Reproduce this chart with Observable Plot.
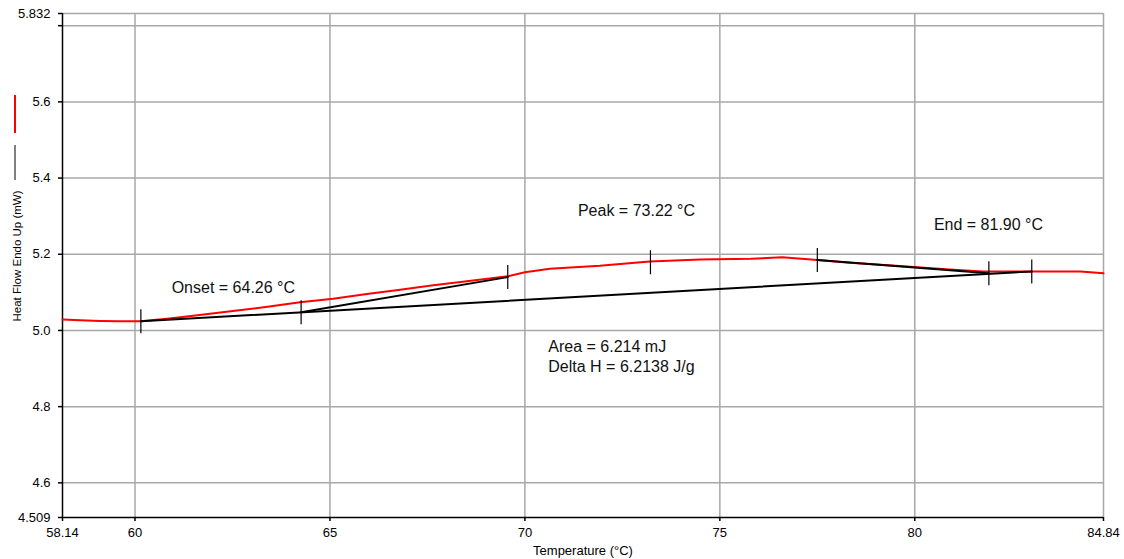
<!DOCTYPE html>
<html>
<head>
<meta charset="utf-8">
<script src="https://cdn.jsdelivr.net/npm/d3@7"></script>
<script src="https://cdn.jsdelivr.net/npm/@observablehq/plot@0.6"></script>
<style>
  html, body { margin: 0; padding: 0; background: #fff; }
  #chart { width: 1124px; height: 559px; overflow: hidden; }
</style>
</head>
<body>
<div id="chart"></div>
<script>
// Red DSC curve
const temperature = [58.14, 58.6, 59.1, 59.6, 60.15, 60.82, 61.6, 62.51, 63.4, 64.23, 65.08, 65.9, 66.8, 67.6, 68.51, 69.56, 70.0, 70.64, 71.92, 73.2, 74.5, 75.8, 76.6, 77.5, 78.33, 79.61, 80.89, 81.74, 82.97, 84.25, 84.84];
const heatFlow    = [5.029, 5.027, 5.025, 5.024, 5.024, 5.031, 5.040, 5.051, 5.062, 5.074, 5.083, 5.095, 5.107, 5.118, 5.129, 5.142, 5.153, 5.162, 5.170, 5.181, 5.186, 5.188, 5.192, 5.185, 5.178, 5.169, 5.160, 5.155, 5.155, 5.155, 5.150];

// Black construction lines
const baselineT = [60.15, 83.0];
const baselineH = [5.024, 5.155];
const onsetTangentT = [64.26, 69.56];
const onsetTangentH = [5.048, 5.140];
const endTangentT = [77.5, 81.9];
const endTangentH = [5.185, 5.150];

// Vertical marker ticks on the curve
const markerT = [60.15, 64.26, 69.56, 73.22, 77.5, 81.9, 83.0];
const markerH = [5.024, 5.048, 5.140, 5.179, 5.185, 5.150, 5.155];

// Axis ticks
const xTicks = [58.14, 60, 65, 70, 75, 80, 84.84];
const xTickLabels = ["58.14", "60", "65", "70", "75", "80", "84.84"];
const yTicks = [4.509, 4.6, 4.8, 5.0, 5.2, 5.4, 5.6, 5.832];
const yTickLabels = ["4.509", "4.6", "4.8", "5.0", "5.2", "5.4", "5.6", "5.832"];
const xGrid = [60, 65, 70, 75, 80, 84.84];
const yGrid = [4.6, 4.8, 5.0, 5.2, 5.4, 5.6, 5.8, 5.832];

// Annotation texts
const noteText = ["Onset = 64.26 °C", "Peak = 73.22 °C", "End = 81.90 °C", "Area = 6.214 mJ", "Delta H = 6.2138 J/g"];
const noteT = [60.94, 71.36, 80.49, 70.60, 70.60];
const noteH = [5.113, 5.313, 5.278, 4.956, 4.905];

const xLabel = "Temperature (°C)";
const yLabel = "Heat Flow Endo Up (mW)";

const curve = temperature.map((t, i) => ({t, h: heatFlow[i]}));
const seg = (T, H) => T.map((t, i) => ({t, h: H[i]}));
const markers = seg(markerT, markerH);
const notes = noteText.map((s, i) => ({s, t: noteT[i], h: noteH[i]}));

const vTick = {draw(ctx) { ctx.moveTo(0, -12); ctx.lineTo(0, 12); }};
const font = "'Liberation Sans', Arial, sans-serif";

const plot = Plot.plot({
  width: 1124,
  height: 559,
  marginLeft: 62,
  marginRight: 21,
  marginTop: 13,
  marginBottom: 42,
  x: {domain: [58.14, 84.84]},
  y: {domain: [4.509, 5.832]},
  style: {fontFamily: font, fontSize: "13px", color: "#000", background: "#fff", overflow: "visible"},
  marks: [
    Plot.ruleX(xGrid, {stroke: "#a8a8a8", strokeWidth: 1.5}),
    Plot.ruleY(yGrid, {stroke: "#a8a8a8", strokeWidth: 1.5}),
    Plot.ruleX([58.14], {stroke: "#000", strokeWidth: 1.5}),
    Plot.ruleY([4.509], {stroke: "#000", strokeWidth: 1.5}),
    Plot.axisX(xTicks, {tickFormat: d => xTickLabels[xTicks.indexOf(d)], tickSize: 4, tickPadding: 6, label: null, stroke: "#000", strokeWidth: 1.5, fill: "#000"}),
    Plot.axisY(yTicks, {tickFormat: d => yTickLabels[yTicks.indexOf(d)], tickSize: 4, tickPadding: 8, label: null, stroke: "#000", strokeWidth: 1.5, fill: "#000"}),
    Plot.axisY([5.8], {tickFormat: () => "", tickSize: 4, label: null, stroke: "#000", strokeWidth: 1.5}),
    Plot.text([xLabel], {frameAnchor: "bottom", dy: 33, lineAnchor: "middle", fontSize: 13, fill: "#000"}),
    Plot.line(curve, {x: "t", y: "h", stroke: "#ff0000", strokeWidth: 2}),
    Plot.line(seg(baselineT, baselineH), {x: "t", y: "h", stroke: "#000", strokeWidth: 2}),
    Plot.line(seg(onsetTangentT, onsetTangentH), {x: "t", y: "h", stroke: "#000", strokeWidth: 2}),
    Plot.line(seg(endTangentT, endTangentH), {x: "t", y: "h", stroke: "#000", strokeWidth: 2}),
    Plot.dot(markers, {x: "t", y: "h", symbol: vTick, fill: "none", stroke: "#000", strokeWidth: 1.2}),
    Plot.text(notes, {x: "t", y: "h", text: "s", textAnchor: "start", lineAnchor: "middle", fontSize: 16, fill: "#111"})
  ]
});

// Rotated y-axis title and legend swatches beside it
const svg = d3.select(plot);
svg.append("text")
  .attr("transform", "translate(16.5,256) rotate(-90)")
  .attr("text-anchor", "middle")
  .attr("dominant-baseline", "central")
  .attr("font-family", font)
  .attr("font-size", 11.5)
  .attr("fill", "#000")
  .text(yLabel);
svg.append("line").attr("x1", 15).attr("x2", 15).attr("y1", 95).attr("y2", 133).attr("stroke", "#ff0000").attr("stroke-width", 2);
svg.append("line").attr("x1", 15).attr("x2", 15).attr("y1", 145).attr("y2", 180).attr("stroke", "#000").attr("stroke-width", 1);

document.getElementById("chart").appendChild(plot);
</script>
</body>
</html>
